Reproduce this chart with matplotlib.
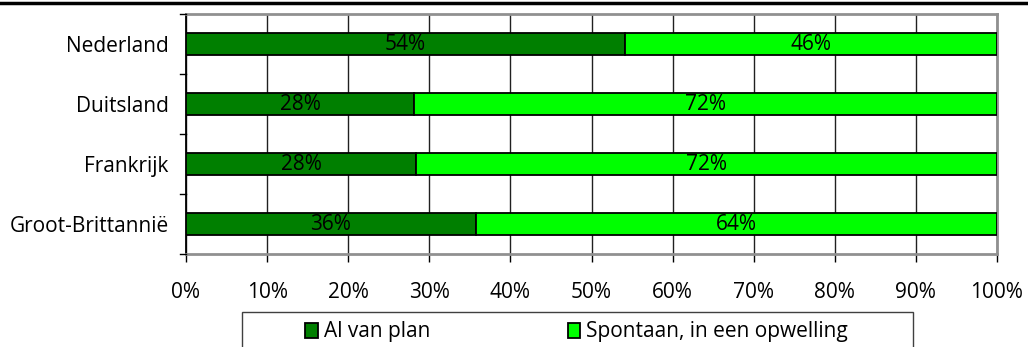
import matplotlib.pyplot as plt
from matplotlib.lines import Line2D
from matplotlib.patches import Rectangle

plt.rcParams['font.family'] = ['Open Sans', 'DejaVu Sans']

# Survey shares per country (percent)
landen = ["Nederland", "Duitsland", "Frankrijk", "Groot-Brittannië"]
al_van_plan = [54.1, 28.1, 28.4, 35.7]
spontaan = [45.9, 71.9, 71.6, 64.3]
reeks_namen = ["Al van plan", "Spontaan, in een opwelling"]
kleuren = ["#007f00", "#00ff00"]
x_ticks = [0, 10, 20, 30, 40, 50, 60, 70, 80, 90, 100]

FS = 15

fig = plt.figure(figsize=(10.28, 3.47), dpi=100)
ax = fig.add_axes([186 / 1028, 1 - 254 / 347, 811 / 1028, 240 / 347])

y = list(range(len(landen)))
b1 = ax.barh(y, al_van_plan, height=0.38, color=kleuren[0], edgecolor="black",
             linewidth=1.3, zorder=3, label=reeks_namen[0])
b2 = ax.barh(y, spontaan, left=al_van_plan, height=0.38, color=kleuren[1],
             edgecolor="black", linewidth=1.3, zorder=3, label=reeks_namen[1])

# value labels in the middle of each segment
for i in y:
    ax.text(al_van_plan[i] / 2, i, f"{al_van_plan[i]:.0f}%", ha="center",
            va="center", fontsize=FS, zorder=4)
    ax.text(al_van_plan[i] + spontaan[i] / 2, i, f"{spontaan[i]:.0f}%",
            ha="center", va="center", fontsize=FS, zorder=4)

ax.set_xlim(0, 100)
ax.set_ylim(len(landen) - 0.5, -0.5)
ax.set_xticks(x_ticks)
ax.set_xticklabels([f"{t}%" for t in x_ticks], fontsize=FS)
ax.set_yticks(y)
ax.set_yticklabels(landen, fontsize=FS)
ax.tick_params(axis="y", length=0, pad=12.5)
ax.tick_params(axis="x", length=6, width=1, pad=14)
ax.xaxis.grid(True, color="#202020", linewidth=1, zorder=0)

# small ticks on the category boundaries
for b in [-0.5, 0.5, 1.5, 2.5, 3.5]:
    ax.plot([-0.7, 0], [b, b], color="black", linewidth=1, clip_on=False, zorder=5)

ax.spines["left"].set_color("black")
ax.spines["left"].set_linewidth(1.3)
for s in ["top", "right", "bottom"]:
    ax.spines[s].set_color("#909090")
    ax.spines[s].set_linewidth(2)

# line under the (cut off) heading
fig.add_artist(Line2D([0, 1], [1 - 3 / 347, 1 - 3 / 347], color="black",
                      linewidth=2.5, transform=fig.transFigure))

# legend box runs past the bottom edge
fig.add_artist(Rectangle((242 / 1028, -0.05), (913 - 242) / 1028,
                         0.05 + 1 - 312 / 347, transform=fig.transFigure,
                         facecolor="white", edgecolor="#404040", linewidth=1))
leg = fig.legend([b1, b2], reeks_namen, loc="center left",
                 bbox_to_anchor=(305 / 1028, 1 - 332 / 347), ncol=2,
                 fontsize=FS, frameon=False, handlelength=0.6,
                 handleheight=0.7, handletextpad=0.3, columnspacing=6.6,
                 borderpad=0, borderaxespad=0)

fig.savefig("out.png", dpi=100)
